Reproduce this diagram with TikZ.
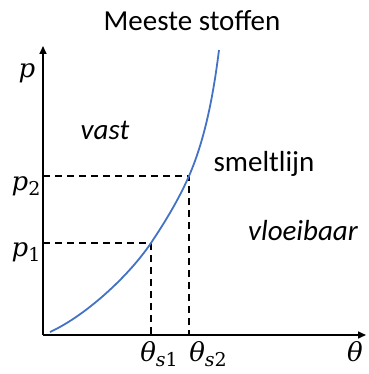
\documentclass[tikz,border=0pt]{standalone}
\usepackage{fontspec}
\setmainfont{Carlito}
\newfontfamily\mfont{DejaVu Serif}
\usetikzlibrary{arrows.meta}
\definecolor{curveblue}{RGB}{68,114,196}
\newcommand{\msub}[2]{{\itshape #1}\raisebox{-0.22em}{\fontsize{19}{22}\selectfont #2}}
\tikzset{
  axis/.style={line width=1.6pt,-{Triangle[length=8pt,width=7pt]}},
  guide/.style={line width=1.6pt,dash pattern=on 7pt off 5pt},
  meltcurve/.style={line width=1.8pt,color=curveblue},
  lbl/.style={inner sep=0pt,font=\fontsize{29}{34}\selectfont},
  mlbl/.style={inner sep=0pt,font=\mfont\fontsize{26}{30}\selectfont},
}
\begin{document}
\begin{tikzpicture}[x=1pt,y=-1pt]
\useasboundingbox (0,0) rectangle (368,374);
\coordinate (O) at (43,335);
\coordinate (ytop) at (43,46);
\coordinate (xend) at (366,335);
\coordinate (C0) at (50,332);
\coordinate (P1) at (151,243);
\coordinate (P2) at (189,176);
\coordinate (C3) at (219,50);
\draw[axis] (O) -- (ytop);
\draw[axis] (O) -- (xend);
\draw[guide] (O |- P2) -- (P2) -- (P2 |- O);
\draw[guide] (O |- P1) -- (P1) -- (P1 |- O);
\draw[meltcurve] (C0) .. controls (85,316) and (128,277) .. (P1)
  .. controls (164,223.5) and (178,201) .. (P2)
  .. controls (206,137) and (214,90) .. (C3);
\node[lbl] (title) at (192,21) {Meeste stoffen};
\node[lbl] (vast) at (105,130) {\itshape vast};
\node[lbl] (smelt) at (264,164) {smeltlijn};
\node[lbl] (vloei) at (303,231) {\itshape vloeibaar};
\node[mlbl,anchor=base] (p) at (27,78) {\itshape p};
\node[mlbl,anchor=base] (p2) at (26,190) {\msub{p}{2}};
\node[mlbl,anchor=base] (p1) at (26,256) {\msub{p}{1}};
\node[mlbl,anchor=base] (ts1) at (159,361) {\msub{θ}{\itshape s\upshape 1}};
\node[mlbl,anchor=base] (ts2) at (208,361) {\msub{θ}{\itshape s\upshape 2}};
\node[mlbl,anchor=base] (th) at (355,361) {\itshape θ};
\end{tikzpicture}
\end{document}
